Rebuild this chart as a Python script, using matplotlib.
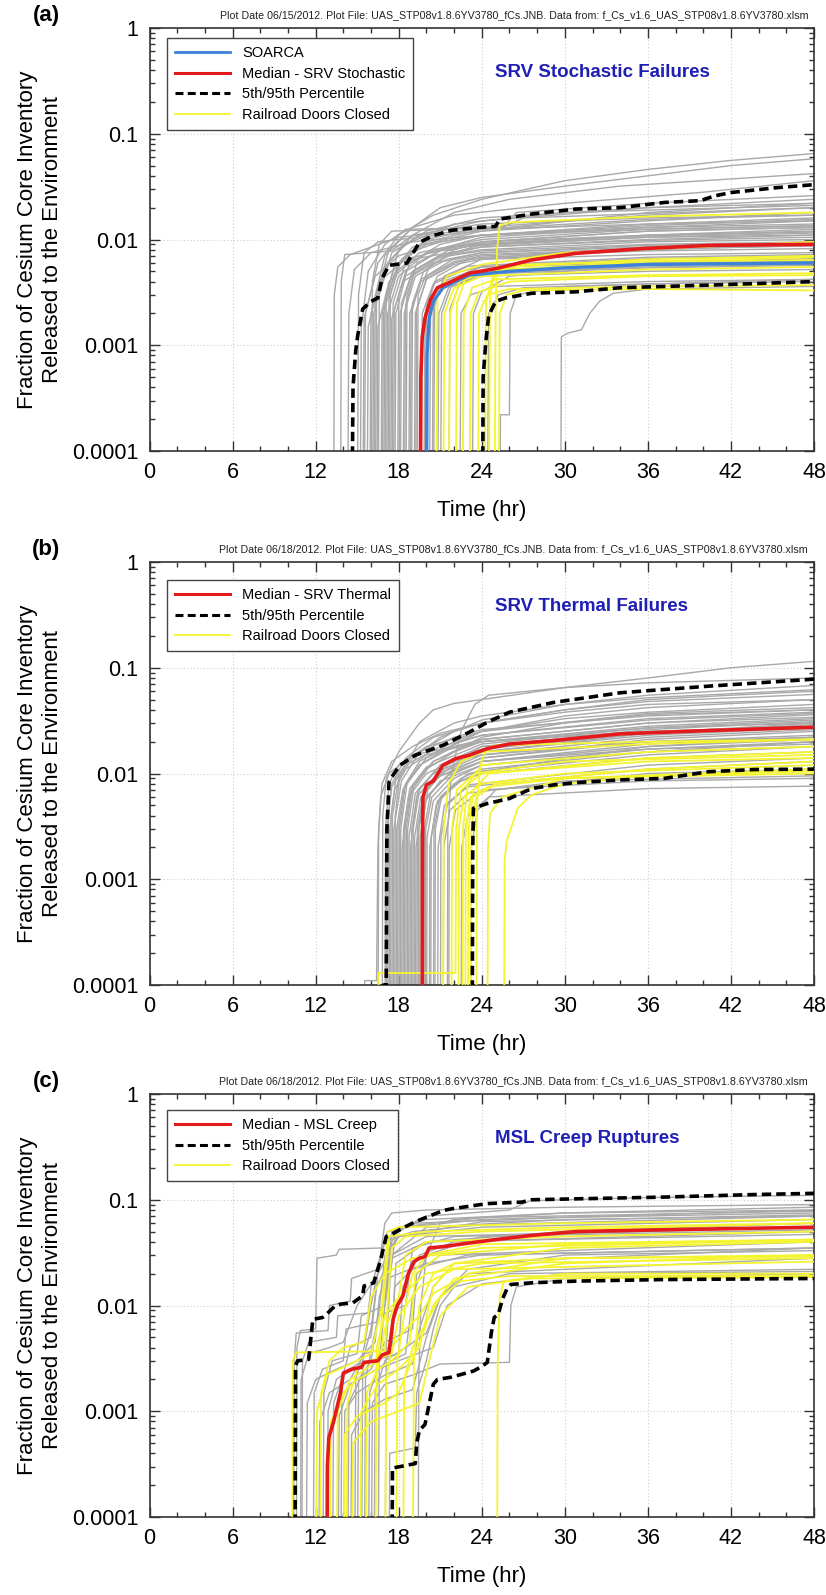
import matplotlib
matplotlib.use("Agg")
import matplotlib.pyplot as plt
from matplotlib.lines import Line2D
from matplotlib.ticker import FixedLocator, FixedFormatter, MultipleLocator, LogLocator, NullFormatter

plt.rcParams['font.family'] = ['Liberation Sans', 'DejaVu Sans']

B = 1e-5  # start value below the visible axis

# ---------------- data : panel (a) SRV Stochastic ----------------
GREY_A = [
    [(13.3,B),(13.35,0.003),(13.6,0.0055),(14.5,0.0072),(18,0.0105),(24,0.0125),(36,0.014),(48,0.015)],
    [(13.8,B),(13.85,0.004),(14.1,0.0072),(17.5,0.0078),(19,0.011),(24,0.014),(36,0.016),(48,0.017)],
    [(14.3,B),(14.4,0.002),(14.8,0.0052),(16,0.0075),(19,0.0095),(24,0.011),(36,0.0125),(48,0.0135)],
    [(15.0,B),(15.1,0.003),(15.5,0.0075),(16.5,0.0095),(19.5,0.0105),(24,0.012),(26,0.013),(36,0.018),(48,0.022)],
    [(15.2,B),(15.3,0.0015),(15.8,0.005),(17,0.009),(18.5,0.0125),(25.5,0.013),(27,0.016),(48,0.02)],
    [(15.4,B),(15.5,0.0018),(16.3,0.0045),(18,0.007),(21,0.0095),(24,0.011),(36,0.0135),(48,0.0155)],
    [(15.5,B),(15.6,0.002),(16.5,0.006),(18,0.011),(20.5,0.017),(24,0.024),(30,0.036),(36,0.046),(42,0.056),(48,0.065)],
    [(15.7,B),(15.8,0.0015),(16.6,0.004),(18.5,0.0065),(22,0.0085),(36,0.0105),(48,0.0115)],
    [(15.9,B),(16.0,0.002),(17,0.007),(19,0.013),(21,0.02),(24,0.025),(30,0.032),(36,0.04),(42,0.05),(48,0.058)],
    [(16.0,B),(16.1,0.004),(16.6,0.009),(17.5,0.012),(25.5,0.013),(26.5,0.018),(36,0.022),(48,0.026)],
    [(16.1,B),(16.2,0.002),(17,0.0055),(18.5,0.009),(22,0.014),(30,0.018),(48,0.021)],
    [(16.2,B),(16.3,0.0025),(17.2,0.006),(19,0.011),(22,0.018),(26,0.024),(34,0.032),(48,0.042)],
    [(16.3,B),(16.4,0.003),(17.3,0.008),(19,0.013),(22,0.017),(30,0.022),(40,0.028),(48,0.036)],
    [(16.4,B),(16.5,0.0015),(17.3,0.004),(19,0.0065),(24,0.0085),(36,0.0098),(48,0.0105)],
    [(16.5,B),(16.6,0.003),(17.5,0.0075),(19.5,0.011),(24,0.015),(36,0.02),(48,0.024)],
    [(16.7,B),(16.8,0.002),(17.6,0.005),(19,0.0085),(24,0.012),(36,0.015),(48,0.018)],
    [(16.8,B),(16.9,0.002),(17.7,0.0048),(19.5,0.0075),(24,0.01),(36,0.0125),(48,0.0135)],
    [(16.9,B),(17.0,0.0025),(18,0.006),(20,0.009),(24,0.011),(36,0.013),(48,0.014)],
    [(17.0,B),(17.1,0.003),(18,0.008),(20,0.012),(24,0.016),(36,0.02),(48,0.022)],
    [(17.1,B),(17.2,0.002),(18,0.0045),(20,0.0075),(24,0.0095),(36,0.012),(48,0.013)],
    [(17.2,B),(17.3,0.0028),(18.1,0.0062),(20,0.0095),(24,0.0125),(36,0.0155),(48,0.017)],
    [(17.3,B),(17.4,0.003),(18.2,0.0065),(20,0.01),(24,0.013),(36,0.017),(48,0.02)],
    [(17.4,B),(17.5,0.0018),(18.3,0.004),(20.5,0.006),(24,0.0072),(36,0.0082),(48,0.0087)],
    [(17.5,B),(17.6,0.0025),(18.4,0.0055),(20.5,0.008),(24,0.0095),(36,0.011),(48,0.012)],
    [(17.6,B),(17.7,0.0022),(18.5,0.005),(21,0.0078),(24,0.009),(36,0.0105),(48,0.011)],
    [(17.7,B),(17.8,0.002),(18.5,0.0045),(21,0.007),(24,0.008),(36,0.0095),(48,0.01)],
    [(17.9,B),(18.0,0.003),(18.8,0.006),(21,0.009),(24,0.011),(36,0.014),(48,0.016)],
    [(18.0,B),(18.1,0.002),(18.9,0.0046),(21,0.0068),(24,0.0078),(36,0.009),(48,0.0095)],
    [(18.1,B),(18.2,0.0025),(19,0.005),(21,0.007),(24,0.0085),(36,0.01),(48,0.011)],
    [(18.3,B),(18.4,0.002),(19.2,0.0045),(21.5,0.0065),(24,0.0075),(36,0.0085),(48,0.009)],
    [(18.4,B),(18.5,0.0024),(19.2,0.0052),(21.5,0.0078),(24,0.0092),(36,0.0108),(48,0.0118)],
    [(18.5,B),(18.6,0.003),(19.3,0.006),(21.5,0.0085),(24,0.0105),(36,0.013),(48,0.015)],
    [(18.7,B),(18.8,0.002),(19.6,0.004),(22,0.006),(24,0.0068),(36,0.0078),(48,0.0082)],
    [(18.8,B),(18.9,0.002),(19.6,0.0042),(22,0.0062),(24,0.007),(36,0.0082),(48,0.0088)],
    [(18.9,B),(19.0,0.0025),(19.8,0.005),(22,0.008),(24,0.0095),(36,0.012),(48,0.013)],
    [(19.1,B),(19.2,0.002),(20,0.0042),(22,0.0058),(24,0.0065),(36,0.0072),(48,0.0075)],
    [(19.2,B),(19.3,0.0022),(20.1,0.0046),(22,0.0066),(24,0.0075),(36,0.0088),(48,0.0093)],
    [(19.3,B),(19.4,0.003),(20.2,0.0055),(22,0.0075),(24,0.009),(36,0.011),(48,0.0125)],
    [(19.6,B),(19.7,0.002),(20.5,0.0038),(22.5,0.005),(24,0.0055),(36,0.006),(48,0.0062)],
    [(19.8,B),(19.9,0.002),(20.6,0.004),(23,0.0056),(36,0.0068),(48,0.0072)],
    [(19.9,B),(20.0,0.0025),(20.8,0.0045),(23,0.0065),(36,0.0085),(48,0.0095)],
    [(20.2,B),(20.3,0.002),(21,0.0035),(23,0.0048),(36,0.0055),(48,0.0058)],
    [(20.4,B),(20.5,0.0022),(21.2,0.004),(24,0.0055),(36,0.0066),(48,0.007)],
    [(20.5,B),(20.6,0.0025),(21.3,0.0045),(24,0.0065),(36,0.008),(48,0.0088)],
    [(20.8,B),(20.9,0.002),(21.6,0.0035),(24,0.0045),(36,0.005),(48,0.0052)],
    [(21.0,B),(21.1,0.002),(21.8,0.0036),(24,0.0047),(36,0.0054),(48,0.0057)],
    [(21.6,B),(21.7,0.0022),(22.4,0.0038),(24,0.0048),(36,0.006),(48,0.0066)],
    [(22.4,B),(22.5,0.002),(23.2,0.003),(25,0.0036),(36,0.004),(48,0.0042)],
    [(23.3,B),(23.4,0.002),(24,0.0032),(26,0.0045),(36,0.0058),(48,0.0063)],
    [(24.4,B),(24.5,0.002),(25.2,0.003),(27,0.0035),(36,0.0038),(48,0.004)],
    [(25.3,B),(25.35,0.00022),(26.0,0.00022),(26.05,0.002),(26.5,0.003),(30,0.0036),(48,0.0042)],
    [(29.7,B),(29.75,0.0012),(30.2,0.0013),(31.2,0.0014),(31.8,0.002),(32.5,0.0026),(33.5,0.0031),(36,0.0034),(48,0.0036)],
]
YELLOW_A = [
    [(20.7,B),(20.8,0.003),(21.5,0.0045),(24,0.0058),(30,0.0075),(48,0.0095)],
    [(21.2,B),(21.3,0.002),(22,0.0035),(24,0.0045),(36,0.0052),(48,0.0055)],
    [(21.6,B),(21.7,0.002),(22.4,0.004),(24,0.005),(36,0.0062),(48,0.0068)],
    [(22.1,B),(22.2,0.0025),(22.8,0.0042),(25,0.0052),(36,0.0058),(48,0.006)],
    [(22.6,B),(22.7,0.002),(23.3,0.0035),(25,0.0042),(36,0.0046),(48,0.0048)],
    [(23.1,B),(23.2,0.002),(23.8,0.0032),(26,0.004),(36,0.0045),(48,0.0046)],
    [(23.7,B),(23.8,0.002),(24.4,0.003),(26,0.0034),(36,0.0036),(48,0.0037)],
    [(24.2,B),(24.3,0.0025),(24.8,0.0045),(26,0.0055),(36,0.0065),(48,0.007)],
    [(24.5,B),(24.6,0.003),(25,0.005),(27,0.0058),(36,0.0062),(48,0.0064)],
    [(24.9,B),(25.0,0.002),(25.1,0.008),(25.3,0.0135),(26,0.0145),(36,0.0165),(48,0.018)],
    [(25.2,B),(25.3,0.002),(25.8,0.003),(27,0.0033),(36,0.0034),(48,0.0033)],
]
SOARCA_A = [(20.0,B),(20.05,0.0008),(20.2,0.0018),(20.5,0.0026),(21.2,0.0035),(23.1,0.0046),
            (26,0.005),(30,0.0054),(36,0.0058),(48,0.006)]
MEDIAN_A = [(19.55,B),(19.6,0.0005),(19.7,0.0012),(19.9,0.0018),(20.3,0.0027),(20.8,0.0035),(21.8,0.004),
            (23.1,0.0048),(25,0.0053),(27.6,0.0064),(30.8,0.0074),(35.6,0.0082),(40.4,0.0088),(48,0.009)]
P95_A = [(14.6,B),(14.7,0.0004),(14.9,0.0009),(15.05,0.00126),(15.4,0.0022),(16.0,0.0026),(16.5,0.0028),
         (16.8,0.0043),(17.3,0.0057),(18.6,0.006),(19.5,0.0094),(20.5,0.0109),(21.8,0.0122),(23.7,0.013),
         (25,0.0133),(25.3,0.0156),(27.6,0.0174),(30.8,0.0194),(34,0.02),(37.2,0.0224),(39.8,0.0233),
         (40.8,0.0258),(42,0.0278),(45.3,0.0309),(48,0.033)]
P05_A = [(24.05,B),(24.1,0.0005),(24.3,0.0011),(24.5,0.0019),(25,0.0026),(25.7,0.0028),(27.6,0.0031),
         (30.8,0.0032),(34,0.0035),(40.4,0.0037),(48,0.004)]

# ---------------- data : panel (b) SRV Thermal ----------------
GREY_B = [
    [(15.5,B),(15.55,0.00011),(16.4,0.00011),(16.5,0.002),(16.7,0.006),(17.3,0.01),(19,0.015),(24,0.02),(36,0.025),(48,0.028)],
    [(16.5,B),(16.55,0.003),(16.8,0.008),(17.5,0.013),(19,0.018),(21,0.024),(24,0.03),(30,0.04),(36,0.05),(42,0.055),(48,0.06)],
    [(16.8,B),(16.85,0.004),(17.1,0.009),(18,0.016),(19.5,0.03),(20.5,0.04),(22,0.046),(24,0.05),(30,0.065),(36,0.08),(42,0.1),(48,0.115)],
    [(17.0,B),(17.05,0.003),(17.3,0.008),(18,0.012),(20,0.018),(24,0.025),(30,0.033),(36,0.038),(48,0.045)],
    [(17.1,B),(17.15,0.003),(17.5,0.0075),(18.5,0.012),(21,0.018),(24,0.023),(36,0.032),(48,0.037)],
    [(17.2,B),(17.25,0.004),(17.5,0.008),(18.5,0.014),(20.5,0.022),(24,0.03),(30,0.038),(36,0.045),(48,0.05)],
    [(17.3,B),(17.35,0.003),(17.7,0.007),(18.5,0.011),(20,0.015),(24,0.02),(36,0.027),(48,0.03)],
    [(17.4,B),(17.45,0.004),(17.8,0.009),(19,0.015),(22,0.022),(24,0.026),(36,0.035),(48,0.04)],
    [(17.5,B),(17.55,0.004),(18,0.009),(19,0.014),(21,0.022),(24,0.032),(30,0.045),(36,0.055),(48,0.068)],
    [(17.6,B),(17.65,0.003),(18.2,0.0085),(19.5,0.016),(22,0.025),(24,0.03),(30,0.04),(36,0.048),(48,0.056)],
    [(17.7,B),(17.75,0.004),(18.1,0.01),(19.5,0.02),(22,0.03),(24,0.035),(30,0.045),(36,0.052),(48,0.062)],
    [(17.8,B),(17.85,0.003),(18.3,0.007),(19.5,0.012),(22,0.018),(24,0.021),(36,0.03),(48,0.034)],
    [(17.9,B),(17.95,0.003),(18.4,0.0075),(19.5,0.012),(22,0.019),(24,0.023),(36,0.033),(48,0.038)],
    [(18.0,B),(18.05,0.003),(18.5,0.008),(19.5,0.013),(22,0.02),(24,0.025),(36,0.037),(48,0.042)],
    [(18.1,B),(18.15,0.003),(18.6,0.008),(20,0.014),(24,0.025),(30,0.035),(36,0.042),(48,0.05)],
    [(18.2,B),(18.25,0.002),(18.7,0.006),(20,0.01),(22,0.013),(24,0.015),(36,0.02),(48,0.022)],
    [(18.3,B),(18.35,0.003),(18.8,0.0072),(20,0.0115),(24,0.019),(36,0.027),(48,0.032)],
    [(18.4,B),(18.45,0.003),(18.9,0.007),(20,0.011),(22,0.016),(24,0.02),(36,0.028),(48,0.033)],
    [(18.5,B),(18.55,0.003),(19,0.0078),(20.5,0.013),(24,0.021),(36,0.03),(48,0.036)],
    [(18.6,B),(18.65,0.003),(19.1,0.0075),(20.5,0.013),(24,0.022),(30,0.03),(36,0.036),(48,0.04)],
    [(18.7,B),(18.75,0.0025),(19.2,0.0065),(20.5,0.01),(24,0.016),(36,0.023),(48,0.027)],
    [(18.8,B),(18.85,0.002),(19.3,0.006),(20.5,0.009),(24,0.013),(36,0.017),(48,0.019)],
    [(18.9,B),(18.95,0.003),(19.4,0.007),(21,0.012),(24,0.017),(36,0.024),(48,0.029)],
    [(19.0,B),(19.05,0.003),(19.5,0.007),(21,0.012),(24,0.018),(36,0.025),(48,0.028)],
    [(19.1,B),(19.15,0.0025),(19.6,0.006),(21,0.0095),(24,0.014),(36,0.02),(48,0.023)],
    [(19.2,B),(19.25,0.002),(19.7,0.005),(21,0.0085),(24,0.012),(36,0.016),(48,0.018)],
    [(19.3,B),(19.35,0.003),(19.8,0.0068),(21.5,0.011),(24,0.016),(36,0.024),(48,0.03)],
    [(19.4,B),(19.45,0.003),(19.9,0.0065),(21,0.01),(24,0.015),(36,0.022),(48,0.026)],
    [(19.5,B),(19.55,0.0025),(20,0.006),(21.5,0.0095),(24,0.013),(36,0.019),(48,0.022)],
    [(19.6,B),(19.65,0.003),(20.1,0.007),(21.5,0.012),(24,0.018),(36,0.026),(48,0.031)],
    [(19.8,B),(19.85,0.003),(20.3,0.0065),(22,0.011),(24,0.014),(36,0.021),(48,0.025)],
    [(19.9,B),(19.95,0.003),(20.4,0.006),(22,0.01),(24,0.013),(36,0.018),(48,0.021)],
    [(20.0,B),(20.05,0.0025),(20.5,0.0055),(22,0.009),(24,0.012),(36,0.017),(48,0.02)],
    [(20.2,B),(20.25,0.002),(20.7,0.005),(22,0.008),(24,0.01),(36,0.014),(48,0.016)],
    [(20.3,B),(20.35,0.0025),(20.8,0.0055),(22.5,0.0085),(24,0.0105),(36,0.015),(48,0.018)],
    [(20.5,B),(20.55,0.003),(21,0.006),(22.5,0.009),(24,0.011),(36,0.016),(48,0.02)],
    [(20.6,B),(20.65,0.003),(21.1,0.006),(23,0.01),(36,0.018),(48,0.022)],
    [(20.8,B),(20.85,0.002),(21.3,0.005),(23,0.0075),(36,0.011),(48,0.013)],
    [(21.0,B),(21.05,0.0025),(21.5,0.005),(23,0.0078),(36,0.012),(48,0.014)],
    [(21.2,B),(21.25,0.002),(21.7,0.0045),(23,0.0065),(30,0.0085),(48,0.0095)],
    [(21.5,B),(21.55,0.003),(21.8,0.01),(22.5,0.025),(23.5,0.045),(24.5,0.055),(30,0.065),(36,0.072),(48,0.08)],
    [(21.6,B),(21.65,0.002),(22.1,0.0045),(24,0.007),(36,0.0085),(48,0.009)],
    [(22.5,B),(22.55,0.002),(23,0.004),(24.5,0.006),(36,0.0072),(48,0.0076)],
    [(23.2,B),(23.25,0.002),(23.7,0.0045),(25,0.007),(36,0.01),(48,0.011)],
]
YELLOW_B = [
    [(16.5,B),(16.55,0.00013),(22.1,0.00013),(22.15,0.003),(22.5,0.007),(24,0.01),(36,0.013),(48,0.014)],
    [(21.2,B),(21.25,0.003),(21.6,0.008),(22.5,0.013),(24,0.016),(36,0.019),(48,0.021)],
    [(21.8,B),(21.85,0.003),(22.2,0.007),(23.5,0.01),(30,0.013),(48,0.015)],
    [(22.3,B),(22.35,0.003),(22.7,0.006),(24,0.008),(30,0.01),(48,0.012)],
    [(22.6,B),(22.65,0.003),(23,0.008),(24,0.012),(36,0.016),(48,0.018)],
    [(22.8,B),(22.85,0.003),(23.2,0.006),(24.5,0.0075),(30,0.009),(48,0.01)],
    [(23.0,B),(23.05,0.003),(23.4,0.007),(24.5,0.01),(36,0.014),(48,0.016)],
    [(23.2,B),(23.25,0.003),(23.6,0.006),(25,0.008),(36,0.011),(48,0.013)],
    [(23.6,B),(23.65,0.005),(23.9,0.012),(24.3,0.017),(25,0.0185),(36,0.02),(48,0.021)],
    [(24.4,B),(24.45,0.002),(24.6,0.0042),(25.5,0.006),(30,0.009),(48,0.011)],
    [(25.6,B),(25.65,0.0015),(25.8,0.0023),(26.6,0.0047),(27.6,0.0063),(30,0.008),(36,0.0095),(48,0.0105)],
]
MEDIAN_B = [(19.7,B),(19.72,0.002),(19.75,0.0059),(20.0,0.0078),(20.5,0.0085),(21.2,0.012),(22.1,0.0138),
            (23.1,0.0149),(24.4,0.0172),(26,0.019),(29.2,0.0205),(34,0.0237),(40.5,0.0255),(48,0.0274)]
P95_B = [(16.8,B),(16.9,0.0001),(17.1,0.0001),(17.15,0.003),(17.3,0.0083),(17.6,0.0097),(18.1,0.012),
         (19.2,0.0149),(21.2,0.0185),(23.1,0.0246),(24.4,0.0305),(26,0.038),(29.2,0.047),(34,0.058),
         (40.4,0.067),(48,0.078)]
P05_B = [(23.3,B),(23.35,0.002),(23.4,0.0047),(24.4,0.0052),(26,0.0058),(27.6,0.0072),(29.2,0.0078),
         (30.8,0.0082),(34,0.0087),(37.2,0.009),(40.4,0.0104),(43.7,0.0109),(48,0.011)]

# ---------------- data : panel (c) MSL Creep ----------------
GREY_C = [
    [(10.4,B),(10.45,0.003),(10.6,0.0055),(12.9,0.0058),(13.0,0.01),(14.5,0.011),(14.6,0.018),(16.5,0.022),(17,0.04),(19,0.05),(24,0.058),(48,0.07)],
    [(10.6,B),(10.65,0.004),(10.9,0.0058),(12.0,0.006),(12.1,0.028),(13.5,0.03),(13.7,0.034),(16.8,0.035),(17.2,0.05),(20,0.065),(30,0.075),(48,0.085)],
    [(10.9,B),(10.95,0.002),(11.5,0.0035),(13,0.004),(14,0.0045),(15,0.01),(16.5,0.02),(18,0.045),(24,0.062),(48,0.072)],
    [(11.0,B),(11.05,0.003),(11.5,0.0045),(13.5,0.005),(13.6,0.008),(15.8,0.0085),(16.0,0.015),(17.0,0.04),(18.5,0.055),(24,0.065),(48,0.08)],
    [(11.3,B),(11.4,0.0012),(12,0.002),(13.5,0.0025),(15,0.003),(16.3,0.0045),(16.6,0.012),(17.5,0.03),(20,0.045),(48,0.055)],
    [(11.8,B),(11.9,0.0015),(12.5,0.0025),(14.0,0.003),(14.2,0.006),(16.5,0.007),(17.0,0.03),(18,0.045),(24,0.055),(48,0.065)],
    [(12.2,B),(12.3,0.0008),(13,0.0015),(14.5,0.002),(15.5,0.0035),(17.5,0.004),(17.8,0.025),(20,0.04),(30,0.05),(48,0.06)],
    [(12.5,B),(12.6,0.0015),(13.2,0.003),(15,0.0035),(15.3,0.008),(17,0.01),(17.5,0.028),(20,0.04),(48,0.047)],
    [(12.8,B),(12.9,0.001),(13.5,0.002),(15,0.0028),(16,0.003),(16.5,0.008),(18.5,0.01),(19,0.035),(22,0.045),(48,0.055)],
    [(13.2,B),(13.3,0.0012),(14,0.0022),(16,0.003),(18,0.0035),(18.3,0.015),(19.5,0.03),(22,0.04),(48,0.05)],
    [(13.6,B),(13.7,0.0009),(14.5,0.0018),(16,0.0025),(17,0.0045),(19,0.006),(19.3,0.02),(21,0.03),(48,0.04)],
    [(13.8,B),(13.9,0.002),(14.5,0.004),(16,0.005),(16.4,0.015),(17.5,0.03),(20,0.055),(30,0.065),(48,0.07)],
    [(14.0,B),(14.1,0.001),(15,0.0015),(17,0.0022),(19,0.0028),(19.5,0.006),(20.5,0.015),(22,0.025),(48,0.035)],
    [(14.3,B),(14.4,0.0012),(15.2,0.002),(17,0.0028),(18.5,0.0035),(19,0.012),(20,0.03),(24,0.045),(48,0.052)],
    [(14.5,B),(14.6,0.0006),(15.5,0.001),(17,0.0013),(19,0.0016),(20,0.005),(21,0.012),(23,0.02),(48,0.028)],
    [(14.8,B),(14.9,0.002),(15.5,0.004),(16,0.01),(16.3,0.016),(18,0.02),(20,0.025),(24,0.03),(48,0.035)],
    [(15.0,B),(15.1,0.002),(16,0.003),(17.5,0.0035),(17.7,0.015),(19,0.022),(23,0.03),(48,0.035)],
    [(15.3,B),(15.4,0.003),(16.0,0.006),(16.5,0.02),(17.0,0.06),(17.5,0.075),(20,0.08),(30,0.085),(48,0.09)],
    [(15.5,B),(15.6,0.002),(16.2,0.005),(17,0.012),(17.5,0.05),(19,0.06),(30,0.068),(48,0.075)],
    [(15.8,B),(15.9,0.0015),(16.5,0.0025),(18,0.003),(20.5,0.004),(21.5,0.01),(24,0.016),(30,0.02),(48,0.021)],
    [(16.0,B),(16.1,0.0012),(17,0.0018),(19,0.0022),(21,0.0028),(26,0.0029),(26.1,0.01),(26.5,0.015),(30,0.018),(48,0.02)],
    [(16.2,B),(16.3,0.0015),(17,0.003),(18.5,0.004),(20,0.0055),(21,0.012),(23,0.022),(30,0.03),(48,0.033)],
    [(16.5,B),(16.6,0.003),(17,0.01),(17.5,0.04),(18,0.055),(24,0.068),(48,0.078)],
    [(17.0,B),(17.1,0.004),(17.4,0.02),(17.8,0.05),(20,0.07),(26,0.08),(27.5,0.098),(36,0.105),(48,0.11)],
    [(17.3,B),(17.35,0.0004),(19.2,0.00045),(19.3,0.0015),(20,0.003),(20.5,0.006),(21,0.01),(22,0.015),(26,0.02),(48,0.022)],
    [(19.4,B),(19.45,0.002),(19.6,0.01),(20,0.03),(21,0.06),(22,0.065),(30,0.075),(48,0.08)],
]
YELLOW_C = [
    [(10.3,B),(10.35,0.003),(10.6,0.0036),(17.0,0.0037),(17.2,0.01),(17.5,0.035),(18.5,0.045),(24,0.05),(48,0.06)],
    [(12.0,B),(12.1,0.001),(12.8,0.0022),(14.5,0.0028),(16,0.0035),(16.8,0.01),(17.2,0.05),(18,0.055),(30,0.06),(48,0.065)],
    [(12.3,B),(12.4,0.0015),(13,0.003),(14,0.004),(15.5,0.0045),(16,0.012),(17,0.02),(19,0.028),(24,0.035),(48,0.042)],
    [(13.0,B),(13.1,0.0008),(14,0.0015),(15,0.002),(16.5,0.0025),(17,0.006),(18,0.012),(20,0.02),(24,0.025),(48,0.028)],
    [(13.5,B),(13.6,0.001),(14.5,0.002),(16.5,0.003),(17.0,0.015),(17.3,0.045),(20,0.05),(30,0.055),(48,0.06)],
    [(14.0,B),(14.1,0.0006),(15,0.0009),(17,0.0012),(18,0.0015),(19.5,0.0045),(20.5,0.01),(22,0.018),(30,0.025),(48,0.03)],
    [(14.2,B),(14.3,0.0012),(15,0.0025),(16,0.003),(17.5,0.0035),(18,0.008),(19.5,0.015),(22,0.022),(48,0.026)],
    [(14.6,B),(14.7,0.0005),(16,0.0008),(18,0.001),(19.5,0.0012),(20.2,0.003),(21,0.008),(23,0.015),(30,0.02),(48,0.02)],
    [(15.2,B),(15.3,0.001),(16.5,0.0018),(18,0.0025),(19.5,0.004),(20.5,0.015),(22,0.025),(30,0.035),(48,0.04)],
    [(15.6,B),(15.7,0.0015),(16.5,0.0025),(17.5,0.003),(18.8,0.0045),(19.2,0.02),(21,0.03),(30,0.038),(48,0.041)],
    [(16.3,B),(16.4,0.004),(17,0.008),(18,0.012),(18.5,0.03),(20,0.04),(30,0.045),(48,0.05)],
    [(17.0,B),(17.1,0.002),(17.5,0.004),(18.5,0.006),(19.5,0.008),(20.5,0.013),(23,0.02),(30,0.028),(48,0.03)],
    [(17.8,B),(17.9,0.003),(18.5,0.01),(19,0.02),(20,0.03),(24,0.038),(48,0.042)],
    [(18.3,B),(18.4,0.002),(19,0.004),(20,0.007),(21,0.012),(22.5,0.017),(26,0.019),(48,0.019)],
    [(19.0,B),(19.1,0.003),(19.5,0.01),(20.5,0.02),(22,0.025),(30,0.028),(48,0.029)],
    [(25.1,B),(25.15,0.003),(25.3,0.012),(25.6,0.017),(27,0.018),(48,0.0185)],
]
MEDIAN_C = [(12.8,B),(12.85,0.0003),(12.95,0.00056),(13.3,0.0008),(13.8,0.0015),(14.0,0.0023),(14.6,0.0025),
            (15.3,0.0026),(15.5,0.0029),(16.5,0.003),(16.8,0.0034),(17.3,0.0036),(17.6,0.0074),(17.9,0.01),
            (18.3,0.0123),(18.7,0.02),(19.1,0.026),(19.5,0.028),(19.9,0.029),(20.2,0.035),(21.2,0.036),
            (23.1,0.039),(25,0.042),(27.6,0.046),(30.8,0.05),(37.2,0.052),(48,0.055)]
P95_C = [(10.5,B),(10.55,0.0027),(10.7,0.003),(11.5,0.0031),(11.7,0.0056),(11.8,0.0074),(12.5,0.0077),
         (12.8,0.0083),(13.4,0.0099),(13.8,0.0103),(14.7,0.0106),(15.4,0.0124),(15.5,0.0153),(16.2,0.0164),
         (16.7,0.027),(17.1,0.045),(17.6,0.048),(18.3,0.054),(19.2,0.062),(21.2,0.079),(21.8,0.082),
         (24.4,0.092),(26.9,0.095),(27.6,0.1),(30.8,0.102),(37.2,0.106),(43.7,0.112),(48,0.115)]
P05_C = [(17.5,B),(17.55,0.00029),(19.2,0.00032),(19.3,0.0005),(19.5,0.00066),(19.9,0.00075),(20.5,0.0018),
         (20.8,0.002),(21.8,0.0021),(23.4,0.0024),(24.1,0.0027),(24.4,0.0029),(24.7,0.0056),(24.9,0.0077),
         (25.2,0.0083),(25.5,0.0115),(25.8,0.0142),(26.1,0.0158),(27.6,0.0164),(30.8,0.017),(37.2,0.0176),
         (48,0.018)]

# ---------------- labels ----------------
Y_TICKS = [1e-4, 1e-3, 1e-2, 1e-1, 1]
Y_TICK_LABELS = ['0.0001', '0.001', '0.01', '0.1', '1']
X_TICKS = [0, 6, 12, 18, 24, 30, 36, 42, 48]
PANEL_LETTERS = ['(a)', '(b)', '(c)']
PANEL_TITLES = ['SRV Stochastic Failures', 'SRV Thermal Failures', 'MSL Creep Ruptures']
MEDIAN_LABELS = ['Median - SRV Stochastic', 'Median - SRV Thermal', 'Median - MSL Creep']
PLOT_DATES = [
    'Plot Date 06/15/2012. Plot File: UAS_STP08v1.8.6YV3780_fCs.JNB. Data from: f_Cs_v1.6_UAS_STP08v1.8.6YV3780.xlsm',
    'Plot Date 06/18/2012. Plot File: UAS_STP08v1.8.6YV3780_fCs.JNB. Data from: f_Cs_v1.6_UAS_STP08v1.8.6YV3780.xlsm',
    'Plot Date 06/18/2012. Plot File: UAS_STP08v1.8.6YV3780_fCs.JNB. Data from: f_Cs_v1.6_UAS_STP08v1.8.6YV3780.xlsm',
]
YLABEL = 'Fraction of Cesium Core Inventory\nReleased to the Environment'

PANELS = [
    dict(grey=GREY_A, yellow=YELLOW_A, soarca=SOARCA_A, median=MEDIAN_A, p95=P95_A, p05=P05_A),
    dict(grey=GREY_B, yellow=YELLOW_B, soarca=None, median=MEDIAN_B, p95=P95_B, p05=P05_B),
    dict(grey=GREY_C, yellow=YELLOW_C, soarca=None, median=MEDIAN_C, p95=P95_C, p05=P05_C),
]

# ---------------- figure ----------------
W, H = 826, 1595
fig = plt.figure(figsize=(W / 100, H / 100), dpi=100)

ax_top_px = [28, 562, 1094]
ax_h_px = 423
ax_left_px, ax_w_px = 149.5, 664.5
legend_top = [0.976, 0.957, 0.962]

GREY = '#a9a9a9'
YEL = '#f4f430'
RED = '#e3191c'
BLUE = '#3c82d8'


def xy(curve):
    t, v = zip(*curve)
    return list(t), list(v)


for i, pdata in enumerate(PANELS):
    top = ax_top_px[i]
    ax = fig.add_axes([ax_left_px / W, 1 - (top + ax_h_px) / H, ax_w_px / W, ax_h_px / H])
    ax.set_yscale('log')
    ax.set_xlim(0, 48)
    ax.set_ylim(1e-4, 1)

    for c in pdata['grey']:
        ax.plot(*xy(c), color=GREY, lw=1.0, zorder=2)
    for c in pdata['yellow']:
        ax.plot(*xy(c), color=YEL, lw=1.3, zorder=3)
    if pdata['soarca'] is not None:
        ax.plot(*xy(pdata['soarca']), color=BLUE, lw=2.4, zorder=4)
    ax.plot(*xy(pdata['median']), color=RED, lw=2.6, zorder=5)
    for key in ('p95', 'p05'):
        ax.plot(*xy(pdata[key]), color='black', lw=2.6, dashes=(2.6, 1.4), zorder=6)

    # axes styling
    ax.xaxis.set_major_locator(FixedLocator(X_TICKS))
    ax.xaxis.set_minor_locator(MultipleLocator(2))
    ax.yaxis.set_major_locator(FixedLocator(Y_TICKS))
    ax.yaxis.set_major_formatter(FixedFormatter(Y_TICK_LABELS))
    ax.yaxis.set_minor_locator(LogLocator(base=10, subs=range(2, 10)))
    ax.yaxis.set_minor_formatter(NullFormatter())
    ax.tick_params(which='both', direction='in', top=True, right=True, width=1.0, color='#333333')
    ax.tick_params(which='major', length=7, labelsize=15.5, pad=8)
    ax.tick_params(which='minor', length=3.5)
    ax.grid(True, which='major', color='#cfcfcf', lw=0.8, ls=(0, (1, 2)), zorder=0)
    for s in ax.spines.values():
        s.set_linewidth(1.2)
        s.set_color('#333333')
    ax.set_xlabel('Time (hr)', fontsize=16, labelpad=12)

    # legend
    handles = []
    if pdata['soarca'] is not None:
        handles.append(Line2D([], [], color=BLUE, lw=2.0, label='SOARCA'))
    handles += [
        Line2D([], [], color=RED, lw=2.2, label=MEDIAN_LABELS[i]),
        Line2D([], [], color='black', lw=2.2, dashes=(2.6, 1.4), label='5th/95th Percentile'),
        Line2D([], [], color=YEL, lw=1.3, label='Railroad Doors Closed'),
    ]
    leg = ax.legend(handles=handles, loc='upper left', bbox_to_anchor=(0.026, legend_top[i]),
                    fontsize=10.5, frameon=True, fancybox=False, framealpha=1,
                    edgecolor='#444444', handlelength=3.8, labelspacing=0.45,
                    borderpad=0.55, handletextpad=0.8, borderaxespad=0)
    leg.get_frame().set_linewidth(1.0)
    leg.set_zorder(10)

    ax.text(0.52, 0.895, PANEL_TITLES[i], transform=ax.transAxes, color='#1f1fb4',
            fontsize=13.5, fontweight='bold', ha='left', va='center', zorder=11)

    pd_txt = ax.text(0.991, 1.031, PLOT_DATES[i], transform=ax.transAxes, fontsize=7.5,
                     ha='right', va='center', color='#222222')
    fig.canvas.draw()
    w = pd_txt.get_window_extent().width
    pd_txt.set_fontsize(7.5 * 584 / w)

    fig.text(46 / W, 1 - (top - 13) / H, PANEL_LETTERS[i], fontsize=16, fontweight='bold',
             ha='center', va='center')
    fig.text(40 / W, 1 - (top + ax_h_px / 2) / H, YLABEL, fontsize=16, rotation=90,
             ha='center', va='center', multialignment='center', linespacing=1.3)

fig.savefig('out.png', dpi=100)
